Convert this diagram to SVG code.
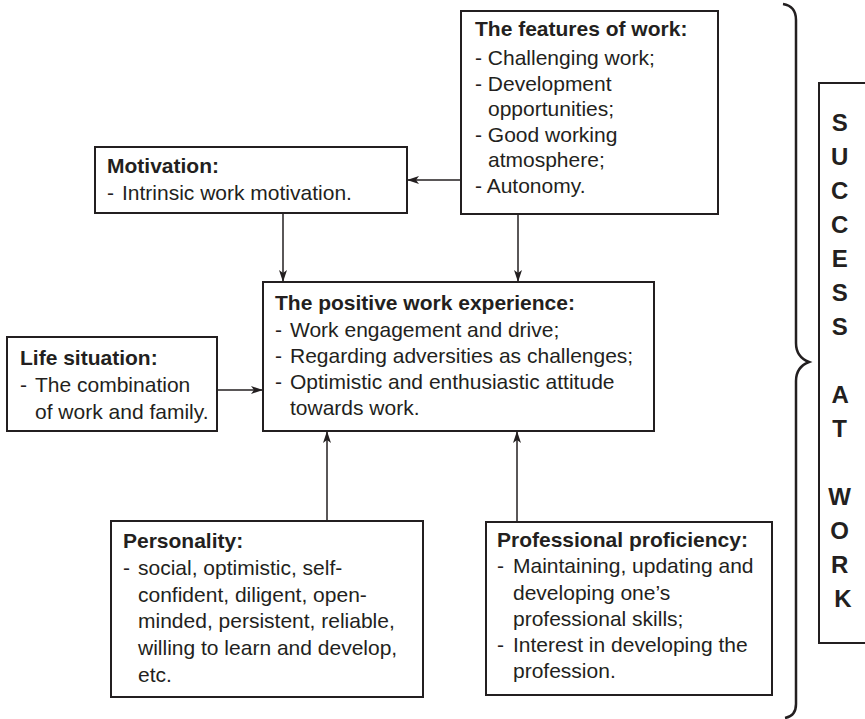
<svg xmlns="http://www.w3.org/2000/svg" width="865" height="719" viewBox="0 0 865 719">
<style>
  .box { fill: #ffffff; stroke: #231f20; stroke-width: 2; }
  text { font-family: "Liberation Sans", Arial, Helvetica, sans-serif; font-size: 21px; fill: #231f20; }
  .b { font-weight: bold; }
  .conn { stroke: #231f20; stroke-width: 1.5; fill: none; }
  .brace { stroke: #231f20; stroke-width: 2.5; fill: none; }
  .sw { font-size: 24px; font-weight: bold; text-anchor: middle; }
</style>
<defs>
  <marker id="arr" viewBox="0 0 12 8" refX="11" refY="4" markerWidth="12" markerHeight="8" markerUnits="userSpaceOnUse" orient="auto">
    <path d="M0,0 L12,4 L0,8 L3,4 z" fill="#231f20"/>
  </marker>
</defs>
<rect width="865" height="719" fill="#ffffff"/>

<g id="connectors">
  <line class="conn" x1="461" y1="180" x2="408" y2="180" marker-end="url(#arr)"/>
  <line class="conn" x1="283" y1="213" x2="283" y2="281" marker-end="url(#arr)"/>
  <line class="conn" x1="518" y1="214" x2="518" y2="281" marker-end="url(#arr)"/>
  <line class="conn" x1="217" y1="390" x2="262" y2="390" marker-end="url(#arr)"/>
  <line class="conn" x1="327" y1="521" x2="327" y2="432" marker-end="url(#arr)"/>
  <line class="conn" x1="517" y1="522" x2="517" y2="432" marker-end="url(#arr)"/>
</g>

<g id="features">
  <rect class="box" x="461" y="11" width="257" height="203"/>
  <text x="475" y="36" class="b">The features of work:</text>
  <text x="475" y="65">- Challenging work;</text>
  <text x="475" y="91">- Development</text>
  <text x="488" y="116">opportunities;</text>
  <text x="475" y="142">- Good working</text>
  <text x="488" y="167">atmosphere;</text>
  <text x="475" y="193">- Autonomy.</text>
</g>

<g id="motivation">
  <rect class="box" x="95" y="147" width="312" height="66"/>
  <text x="107" y="173" class="b">Motivation:</text>
  <text x="107" y="200">-</text>
  <text x="122" y="200">Intrinsic work motivation.</text>
</g>

<g id="positive">
  <rect class="box" x="263" y="282" width="391" height="149"/>
  <text x="275" y="310" class="b">The positive work experience:</text>
  <text x="275" y="337">-</text><text x="290" y="337">Work engagement and drive;</text>
  <text x="275" y="363">-</text><text x="290" y="363">Regarding adversities as challenges;</text>
  <text x="275" y="389">-</text><text x="290" y="389">Optimistic and enthusiastic attitude</text>
  <text x="290" y="415">towards work.</text>
</g>

<g id="life">
  <rect class="box" x="7" y="337" width="210" height="94"/>
  <text x="20" y="365" class="b">Life situation:</text>
  <text x="20" y="392">-</text><text x="35" y="392">The combination</text>
  <text x="35" y="419">of work and family.</text>
</g>

<g id="personality">
  <rect class="box" x="111" y="521" width="312" height="176"/>
  <text x="123" y="548" class="b">Personality:</text>
  <text x="123" y="575">-</text><text x="138" y="575">social, optimistic, self-</text>
  <text x="138" y="602">confident, diligent, open-</text>
  <text x="138" y="628">minded, persistent, reliable,</text>
  <text x="138" y="655">willing to learn and develop,</text>
  <text x="138" y="682">etc.</text>
</g>

<g id="proficiency">
  <rect class="box" x="486" y="522" width="286" height="173"/>
  <text x="497" y="547" class="b">Professional proficiency:</text>
  <text x="497" y="573">-</text><text x="513" y="573">Maintaining, updating and</text>
  <text x="513" y="600">developing one’s</text>
  <text x="513" y="626">professional skills;</text>
  <text x="497" y="652">-</text><text x="513" y="652">Interest in developing the</text>
  <text x="513" y="678">profession.</text>
</g>

<g id="brace">
  <path class="brace" d="M783,4 Q796,6 796,20 L796,343 Q796,357 809,362 Q796,367 796,381 L796,704 Q796,716 785,718"/>
</g>

<g id="success">
  <rect class="box" x="819" y="83" width="60" height="560"/>
  <text class="sw">
    <tspan x="843" y="131">S</tspan>
    <tspan x="843" y="165">U</tspan>
    <tspan x="843" y="199">C</tspan>
    <tspan x="843" y="233">C</tspan>
    <tspan x="843" y="267">E</tspan>
    <tspan x="843" y="301">S</tspan>
    <tspan x="843" y="335">S</tspan>
    <tspan x="843" y="403">A</tspan>
    <tspan x="843" y="437">T</tspan>
    <tspan x="843" y="505">W</tspan>
    <tspan x="843" y="539">O</tspan>
    <tspan x="843" y="573">R</tspan>
    <tspan x="843" y="607">K</tspan>
  </text>
</g>
</svg>
